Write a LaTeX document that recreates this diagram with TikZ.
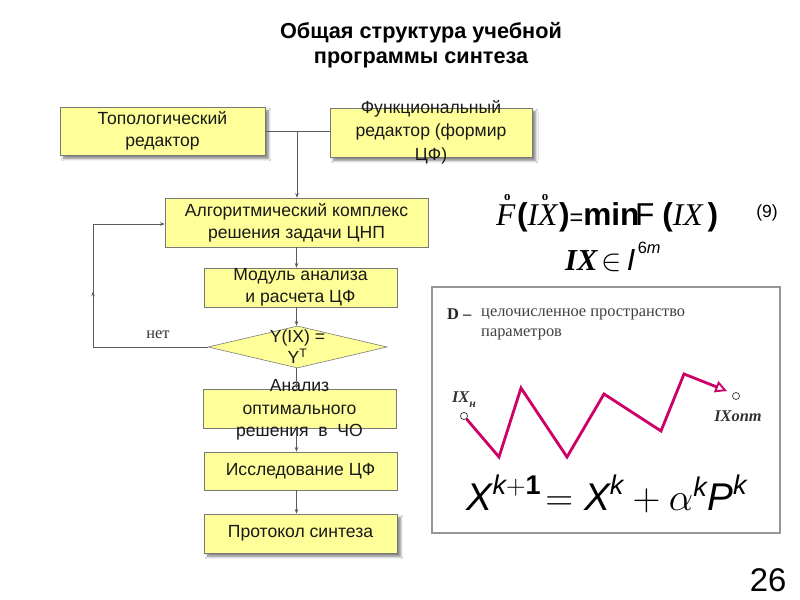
\RequirePackage{fix-cm}
\documentclass[tikz,border=0pt]{standalone}
\usepackage{fontspec}
\usepackage{amsmath}
\setmainfont{Liberation Sans}
\newfontfamily\serif{Liberation Serif}
\usetikzlibrary{shapes.geometric,arrows.meta,shadows.blur,decorations.markings}
\definecolor{boxfill}{RGB}{255,255,153}
\definecolor{boxline}{RGB}{120,120,120}
\definecolor{conn}{RGB}{90,90,90}
\definecolor{zig}{RGB}{204,0,102}
\newcommand\ringo[2][0.3em]{\leavevmode\rlap{\raisebox{0.8em}{\hspace{#1}\fontsize{11}{11}\selectfont\bfseries\upshape o}}#2}
\begin{document}
\begin{tikzpicture}[x=0.03cm,y=-0.03cm,
  box/.style={draw=boxline,fill=boxfill,line width=0.5pt,inner sep=0pt,
    font=\fontsize{15}{18.7}\selectfont,text=black!90,align=center},
  shad/.style={blur shadow={shadow xshift=3pt,shadow yshift=-3pt,shadow blur steps=6,shadow opacity=50}},
  arr/.style={draw=conn,line width=0.5pt,-{Stealth[length=4pt,width=3pt]}},
  ln/.style={draw=conn,line width=0.5pt}]
\useasboundingbox (0,0) rectangle (800,600);
\fill[white] (0,0) rectangle (800,600);

% title
\node[font=\fontsize{18.5}{21}\selectfont\bfseries,align=center] (title) at (421,45)
  {Общая структура учебной\\программы синтеза};

% flowchart boxes
\node[box,shad,minimum width=6.15cm,minimum height=1.44cm] (topo) at (162.5,131) {Топологический\\редактор};
\node[box,shad,minimum width=6.06cm,minimum height=1.47cm] (func) at (431,132.5) {};
\node[font=\fontsize{15}{20}\selectfont,align=center,text=black!90] (functxt) at (431,132) {Функциональный\\редактор (формир\\ЦФ)};
\node[box,minimum width=7.89cm,minimum height=1.47cm] (algo) at (296.5,222.5) {Алгоритмический комплекс\\решения задачи ЦНП};
\node[box,minimum width=5.79cm,minimum height=1.17cm] (modul) at (300.5,287.5) {Модуль анализа\\и расчета ЦФ};
\node[box,diamond,minimum width=5.37cm,minimum height=1.26cm] (dia) at (297.5,347) {};
\node[font=\fontsize{15}{18}\selectfont,align=center,text=black!90] (diatxt) at (297.5,347) {Y(IX) =\\Y\textsuperscript{T}};
\node[box,minimum width=5.79cm,minimum height=1.17cm] (anal) at (299.5,408.5) {};
\node[font=\fontsize{15}{19}\selectfont,align=center,text=black!90] (analtxt) at (299.5,410) {Анализ\\оптимального\\решения\ \ в\ \ ЧО};
\node[box,minimum width=5.79cm,minimum height=1.14cm] (res) at (300.5,471) {Исследование ЦФ};
\node[box,shad,minimum width=5.79cm,minimum height=1.17cm] (prot) at (300.5,533.5) {Протокол синтеза};

% connectors
\draw[ln] (topo.east) -- (topo.east -| func.west);
\coordinate (j) at (297,131);
\draw[arr] (j) -- (j |- algo.north);
\draw[arr] (algo.south) -- (algo.south |- modul.north);
\draw[arr] (algo.south |- modul.south) -- (algo.south |- dia.north);
\draw[arr] (algo.south |- dia.south) -- (algo.south |- anal.north);
\draw[arr] (algo.south |- anal.south) -- (algo.south |- res.north);
\draw[arr] (algo.south |- res.south) -- (algo.south |- prot.north);
\coordinate (l1) at (93,347);
\coordinate (l2) at (93,224);
\draw[arr,postaction={decorate},decoration={markings,mark=at position 0.55 with {\arrow{Stealth[length=4pt,width=3pt]}}}]
  (dia.west) -- (l1) -- (l2) -- (l2 -| algo.west);
\node[font=\serif\fontsize{14}{16}\selectfont,text=black!80] (net) at (158,335) {нет};

% formula (9)
\node[font=\fontsize{27}{30}\selectfont,anchor=west,inner sep=0pt] (f9) at (496,213)
 {{\serif\itshape\ringo[0.25em]{F}}\kern0.05em{\bfseries(}{\serif\itshape\ringo[0.45em]{IX}}\kern0.05em{\bfseries)}{\fontsize{20}{22}\selectfont=}{\bfseries min}\kern-0.14em F\kern0.25em{\bfseries(}{\serif\itshape IX}\kern0.15em{\bfseries)}};
\node[font=\fontsize{15}{18}\selectfont] (nine) at (767,213) {(9)};
\node[font=\fontsize{26}{28}\selectfont,anchor=west,inner sep=0pt] (ixin) at (565,257)
 {{\serif\bfseries\itshape IX}\kern0.15em$\in$\kern0.15em{\itshape I}\raisebox{0.55em}{\fontsize{14}{15}\selectfont\kern0.15em 6\itshape m}};

% right frame
\draw[draw={rgb,255:red,150;green,150;blue,150},line width=1.3pt] (432,287) rectangle (780,533);
\node[font=\serif\bfseries\fontsize{14}{16}\selectfont,anchor=base west,inner sep=0pt,text=black!85] (dlab) at (447,320) {D –};
\node[font=\serif\fontsize{14}{17}\selectfont,anchor=north west,inner sep=0pt,align=left,text=black!75] (dtxt) at (481,308.5) {целочисленное пространство\\параметров};

% zigzag
\node[circle,draw=black!80,line width=0.6pt,inner sep=0pt,minimum size=6pt] (ixs) at (464,416) {};
\node[circle,draw=black!80,line width=0.6pt,inner sep=0pt,minimum size=6pt] (ixe) at (736,396) {};
\draw[zig,line width=2.4pt,line join=miter,-{Triangle[open,length=10pt,width=10pt,line width=1.6pt]}]
  (ixs) -- (499,457) -- (521,388) -- (567,457) -- (604,394) -- (661,431) -- (684,374) -- (727,391);
\node[font=\serif\bfseries\itshape\fontsize{14}{16}\selectfont,text=black!80] (ixh) at (464,400) {IX\raisebox{-0.3em}{\fontsize{10}{10}\selectfont н}};
\node[font=\serif\bfseries\itshape\fontsize{14}{16}\selectfont,text=black!80] (ixo) at (738,416) {IXопт};

% iteration formula
\node[font=\fontsize{33}{38}\selectfont,text=black] (iter) at (607,494)
 {$\textit{X}^{\textit{k}+\textbf{1}}\!=\textit{X}^{\textit{k}}+\alpha^{\textit{k}}\textit{P}^{\textit{k}}$};

% page number
\node[font=\fontsize{28}{30}\selectfont] (pg) at (768,580) {26};
\end{tikzpicture}
\end{document}
